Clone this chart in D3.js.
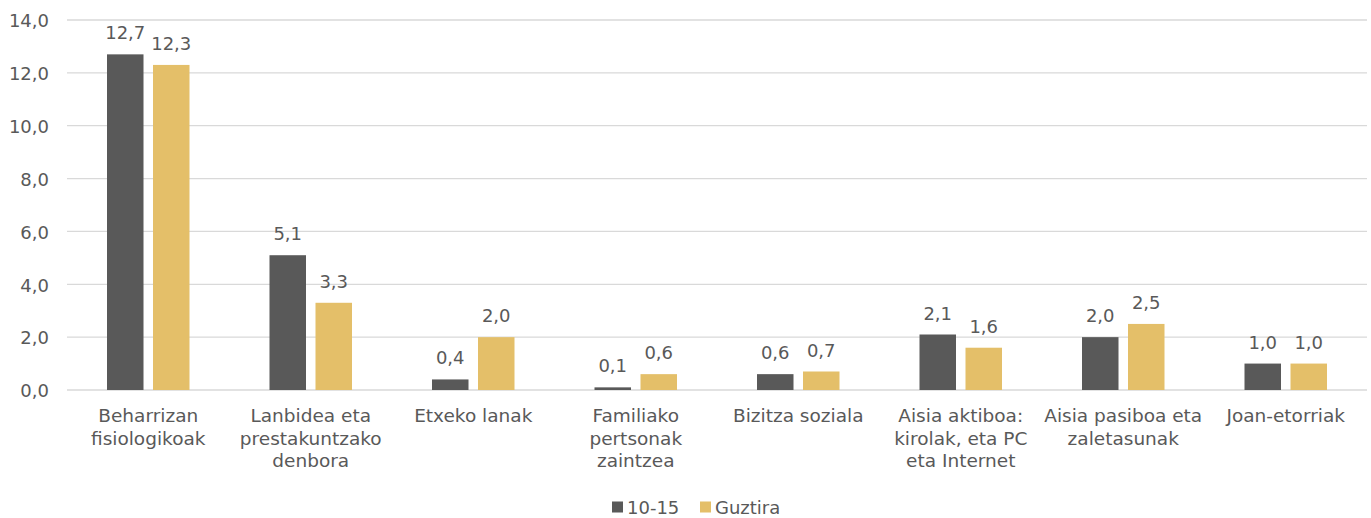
<!DOCTYPE html>
<html>
<head>
<meta charset="utf-8">
<script src="https://cdn.jsdelivr.net/npm/d3@7"></script>
<style>
  body { margin: 0; background: #fff; }
  svg text { font-family: Verdana, "DejaVu Sans", sans-serif; fill: #595959; }
</style>
</head>
<body>
<svg id="chart" width="1371" height="518"></svg>
<script>
const categories = [
  "Beharrizan\nfisiologikoak",
  "Lanbidea eta\nprestakuntzako\ndenbora",
  "Etxeko lanak",
  "Familiako\npertsonak\nzaintzea",
  "Bizitza soziala",
  "Aisia aktiboa:\nkirolak, eta PC\neta Internet",
  "Aisia pasiboa eta\nzaletasunak",
  "Joan-etorriak"
];
const seriesNames = ["10-15", "Guztira"];
const values1015 = [12.7, 5.1, 0.4, 0.1, 0.6, 2.1, 2.0, 1.0];
const valuesGuztira = [12.3, 3.3, 2.0, 0.6, 0.7, 1.6, 2.5, 1.0];
const yTicks = [0, 2, 4, 6, 8, 10, 12, 14];
const colors = ["#595959", "#E4BF69"];

const svg = d3.select("#chart");
const margin = { left: 67, right: 4, top: 20, bottom: 128 };
const W = 1371, H = 518;
const fmt = v => d3.format(".1f")(v).replace(".", ",");

const x = d3.scaleBand().domain(d3.range(categories.length))
  .range([margin.left, W - margin.right]).paddingInner(0).paddingOuter(0);
const y = d3.scaleLinear().domain([0, 14]).range([H - margin.bottom, margin.top]);

const barW = 36.5, gap = 9.5;
const xs = d3.scaleOrdinal().domain([0, 1])
  .range([-(barW + gap / 2), gap / 2]);

// grid lines
svg.append("g").selectAll("line").data(yTicks).join("line")
  .attr("x1", margin.left).attr("x2", W - margin.right)
  .attr("y1", d => y(d)).attr("y2", d => y(d))
  .attr("stroke", "#d9d9d9").attr("stroke-width", 1.3);

// y axis labels
const yAxis = svg.append("g")
  .attr("transform", `translate(${margin.left - 18},1)`)
  .call(d3.axisLeft(y).tickValues(yTicks).tickFormat(fmt).tickSize(0).tickPadding(0));
yAxis.select(".domain").remove();
yAxis.selectAll("text").attr("font-size", 18).style("font-family", 'Verdana, "DejaVu Sans", sans-serif').attr("fill", "#595959");

const series = [values1015, valuesGuztira];
series.forEach((vals, s) => {
  const g = svg.append("g");
  g.selectAll("rect").data(vals).join("rect")
    .attr("x", (d, i) => x(i) + x.bandwidth() / 2 + xs(s))
    .attr("width", barW)
    .attr("y", d => y(d))
    .attr("height", d => y(0) - y(d))
    .attr("fill", colors[s]);
  g.selectAll("text").data(vals).join("text")
    .attr("x", (d, i) => x(i) + x.bandwidth() / 2 + xs(s) + barW / 2)
    .attr("y", d => y(d) - 15)
    .attr("text-anchor", "middle")
    .attr("font-size", 18)
    .text(fmt);
});

// category labels
const cat = svg.append("g").selectAll("text").data(categories).join("text")
  .attr("x", (d, i) => x(i) + x.bandwidth() / 2)
  .attr("y", 422)
  .attr("text-anchor", "middle")
  .attr("font-size", 18.5);
cat.each(function (d) {
  const t = d3.select(this);
  d.split("\n").forEach((line, k) => {
    t.append("tspan").attr("x", t.attr("x")).attr("dy", k === 0 ? 0 : 22.7).text(line);
  });
});

// legend
const legend = svg.append("g");
const legX = [612, 700];
seriesNames.forEach((name, s) => {
  legend.append("rect").attr("x", legX[s]).attr("y", 501.5)
    .attr("width", 11).attr("height", 11).attr("fill", colors[s]);
  legend.append("text").attr("x", legX[s] + 15).attr("y", 514)
    .attr("font-size", 18).text(name);
});
</script>
</body>
</html>
